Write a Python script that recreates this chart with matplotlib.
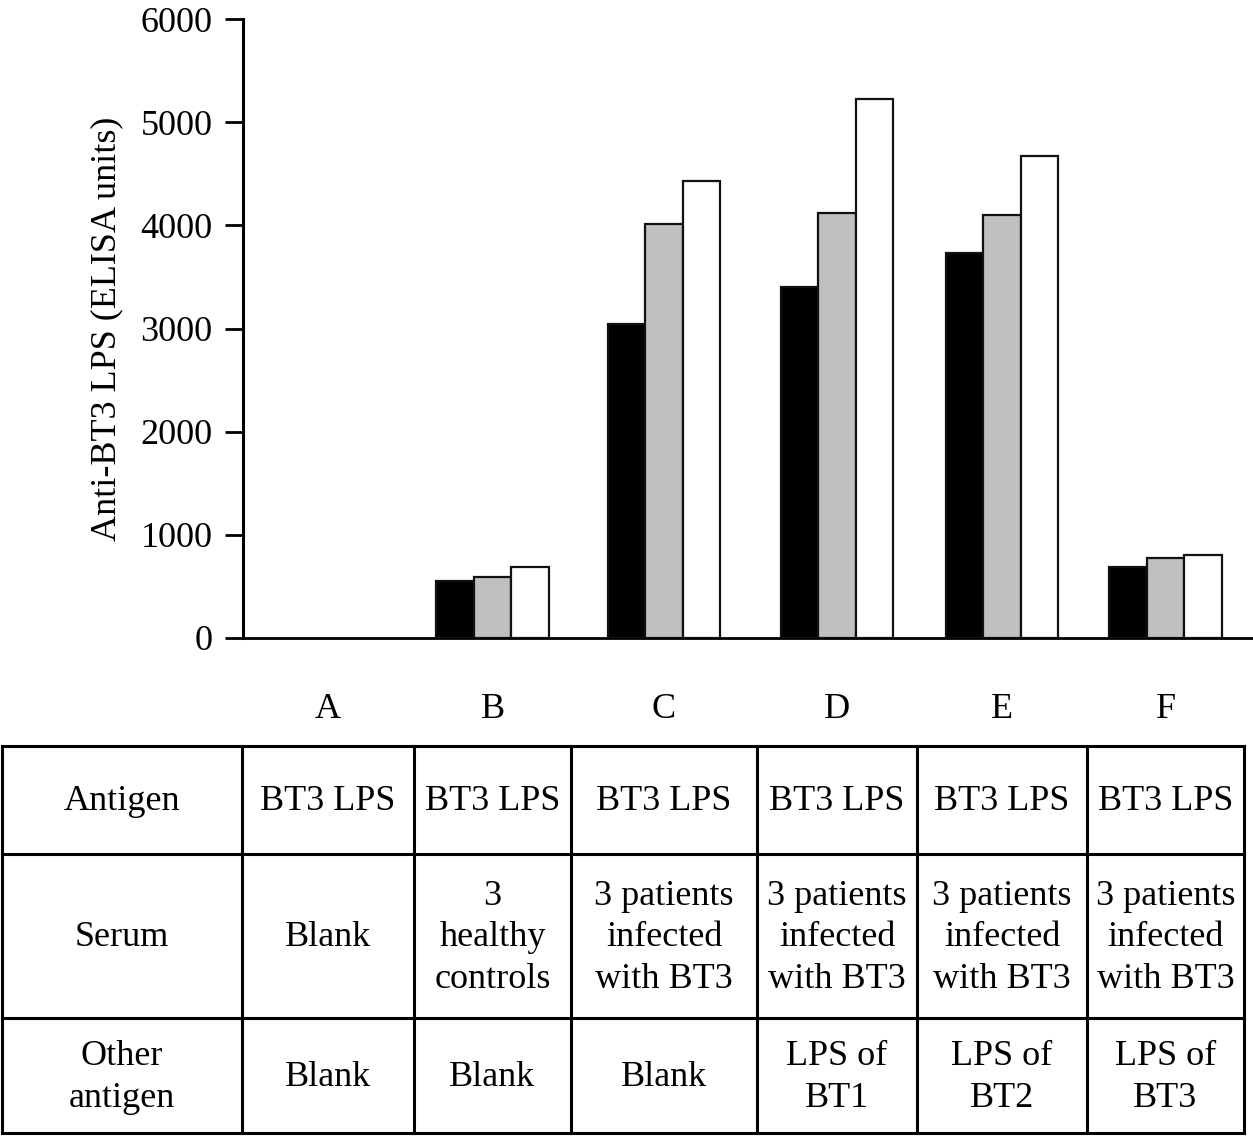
import matplotlib
matplotlib.use("Agg")
import matplotlib.pyplot as plt
import numpy as np

plt.rcParams['font.family'] = ['Liberation Serif', 'DejaVu Serif']

groups = ["A", "B", "C", "D", "E", "F"]
series1 = [0, 553, 3040, 3405, 3735, 690]    # black
series2 = [0, 595, 4010, 4117, 4097, 778]    # gray
series3 = [0, 690, 4428, 5222, 4670, 806]    # white
yticks = [0, 1000, 2000, 3000, 4000, 5000, 6000]

row_headers = ["Antigen", "Serum", "Other\nantigen"]
antigen_row = ["BT3 LPS"] * 6
serum_row = ["Blank", "3\nhealthy\ncontrols", "3 patients\ninfected\nwith BT3",
             "3 patients\ninfected\nwith BT3", "3 patients\ninfected\nwith BT3",
             "3 patients\ninfected\nwith BT3"]
other_row = ["Blank", "Blank", "Blank", "LPS of\nBT1", "LPS of\nBT2", "LPS of\nBT3"]

W, H = 1253, 1136
fig = plt.figure(figsize=(W / 100, H / 100), dpi=100)

# table geometry in pixels
col_edges = [2, 242, 414, 571, 757, 917, 1087, 1244]
row_edges = [746, 854, 1018, 1133]
centers = [(col_edges[i + 1] + col_edges[i + 2]) / 2 for i in range(6)]

ax_left, ax_right = 243, 1253
ax_top, ax_bot = 19, 638
ax = fig.add_axes([ax_left / W, 1 - ax_bot / H, (ax_right - ax_left) / W, (ax_bot - ax_top) / H])
ax.set_xlim(ax_left, ax_right)
ax.set_ylim(0, 6000)

bw = 37.5
colors = ["black", "#c0c0c0", "white"]
for k, (vals, c) in enumerate(zip([series1, series2, series3], colors)):
    xs = [cx + (k - 1) * bw for cx in centers]
    pts = [(x, v) for x, v in zip(xs, vals) if v > 0]
    ax.bar([p[0] for p in pts], [p[1] for p in pts], width=bw, color=c,
           edgecolor="#111111", linewidth=1.6, zorder=3)

ax.set_yticks(yticks)
ax.set_yticklabels([str(t) for t in yticks], fontsize=26)
ax.tick_params(axis="y", direction="out", length=13, width=2.0, pad=9)
ax.set_xticks([])
for s in ["top", "right"]:
    ax.spines[s].set_visible(False)
ax.spines["left"].set_linewidth(2.2)
ax.spines["bottom"].set_linewidth(2.0)
ax.set_ylabel("Anti-BT3 LPS (ELISA units)", fontsize=26, labelpad=12)

# overlay for table
ov = fig.add_axes([0, 0, 1, 1])
ov.set_xlim(0, W)
ov.set_ylim(H, 0)
ov.axis("off")

for i, g in enumerate(groups):
    ov.text(centers[i], 709, g, ha="center", va="center", fontsize=26)

lw = 2.2
for x in col_edges:
    ov.plot([x, x], [row_edges[0], row_edges[-1]], color="black", lw=lw, solid_capstyle="projecting")
for y in row_edges:
    ov.plot([col_edges[0], col_edges[-1]], [y, y], color="black", lw=lw, solid_capstyle="projecting")

rows = [antigen_row, serum_row, other_row]
for r in range(3):
    yc = (row_edges[r] + row_edges[r + 1]) / 2 + 2
    ov.text((col_edges[0] + col_edges[1]) / 2, yc, row_headers[r], ha="center", va="center",
            fontsize=26, linespacing=1.35)
    for i in range(6):
        ov.text(centers[i], yc, rows[r][i], ha="center", va="center", fontsize=26, linespacing=1.35)

fig.savefig("out.png", dpi=100)
